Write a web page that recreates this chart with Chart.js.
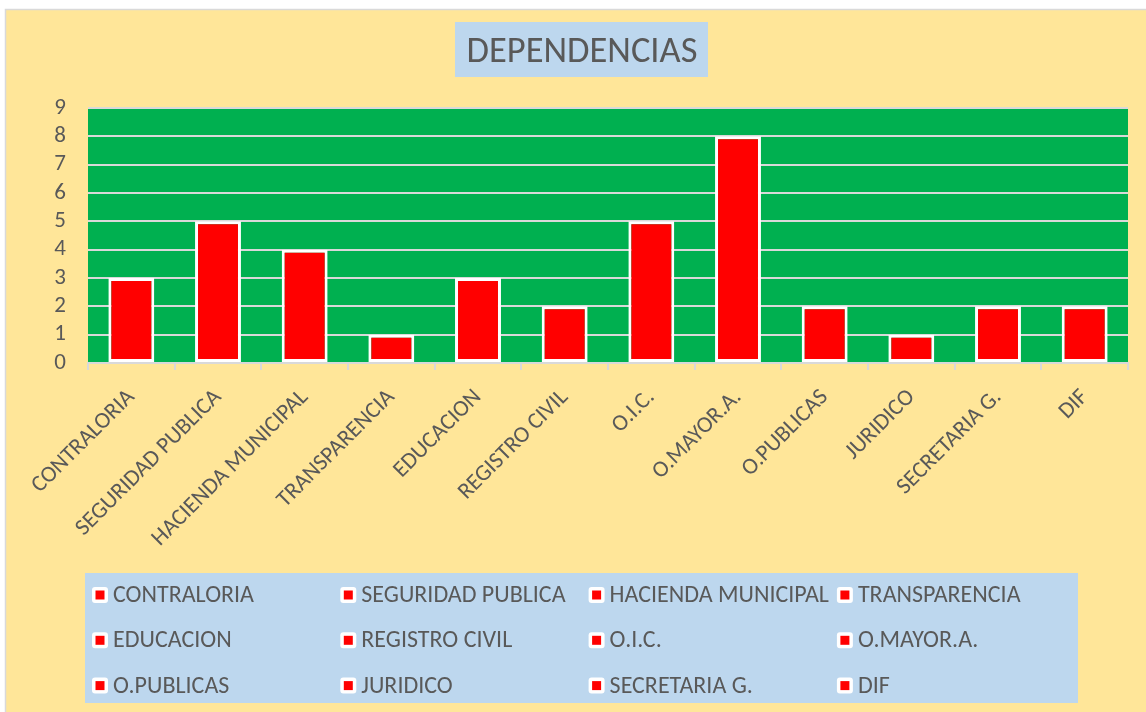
<!DOCTYPE html>
<html>
<head>
<meta charset="utf-8">
<script src="https://cdn.jsdelivr.net/npm/chart.js@4.4.1/dist/chart.umd.min.js"></script>
<style>
  html, body { margin: 0; padding: 0; background: #ffffff; }
  #wrap { width: 1146px; height: 712px; position: relative; }
</style>
</head>
<body>
<div id="wrap"><canvas id="c" width="1146" height="712"></canvas></div>
<script>
const chartTitle = "DEPENDENCIAS";
const categories = ["CONTRALORIA", "SEGURIDAD PUBLICA", "HACIENDA MUNICIPAL", "TRANSPARENCIA",
  "EDUCACION", "REGISTRO CIVIL", "O.I.C.", "O.MAYOR.A.", "O.PUBLICAS", "JURIDICO",
  "SECRETARIA G.", "DIF"];
const values = [3, 5, 4, 1, 3, 2, 5, 8, 2, 1, 2, 2];
const yTicks = [0, 1, 2, 3, 4, 5, 6, 7, 8, 9];

const FONT = "Carlito, 'Liberation Sans', Arial, sans-serif";
const TEXT = "#595959";
const YELLOW = "#FFE699";
const BLUE = "#BDD7EE";
const GREEN = "#00B050";
const RED = "#FF0000";
const GRID = "#D9D9D9";

const bgPlugin = {
  id: "bg",
  beforeDraw(chart) {
    const ctx = chart.ctx;
    ctx.save();
    ctx.fillStyle = "#ffffff";
    ctx.fillRect(0, 0, chart.width, chart.height);
    ctx.fillStyle = YELLOW;
    ctx.fillRect(5, 9, chart.width - 5, chart.height - 9);
    ctx.strokeStyle = GRID;
    ctx.lineWidth = 1.5;
    ctx.beginPath();
    ctx.moveTo(5.5, chart.height);
    ctx.lineTo(5.5, 9.5);
    ctx.lineTo(chart.width, 9.5);
    ctx.stroke();
    const a = chart.chartArea;
    ctx.fillStyle = GREEN;
    ctx.fillRect(a.left, a.top, a.right - a.left, a.bottom - a.top);
    // title box
    ctx.fillStyle = BLUE;
    ctx.fillRect(455, 22, 253, 55);
    ctx.fillStyle = TEXT;
    ctx.font = "36.5px " + FONT;
    ctx.textAlign = "center";
    ctx.textBaseline = "alphabetic";
    ctx.fillText(chartTitle, 582, 62);
    ctx.restore();
  }
};

const legendPlugin = {
  id: "gridLegend",
  afterDraw(chart) {
    const ctx = chart.ctx;
    ctx.save();
    ctx.fillStyle = BLUE;
    ctx.fillRect(85, 573, 993, 130);
    ctx.font = "24px " + FONT;
    ctx.textAlign = "left";
    ctx.textBaseline = "middle";
    categories.forEach((name, i) => {
      const col = i % 4, row = Math.floor(i / 4);
      const x = 92 + col * 248.3;
      const y = 595 + row * 45.3;
      ctx.fillStyle = "#ffffff";
      ctx.beginPath();
      if (ctx.roundRect) ctx.roundRect(x, y - 8, 16, 16, 3); else ctx.rect(x, y - 8, 16, 16);
      ctx.fill();
      ctx.fillStyle = RED;
      ctx.fillRect(x + 3.5, y - 4.5, 9, 9);
      ctx.fillStyle = TEXT;
      ctx.fillText(name, x + 21, y + 1);
    });
    ctx.restore();
  }
};

new Chart(document.getElementById("c"), {
  type: "bar",
  data: {
    labels: categories,
    datasets: [{
      label: chartTitle,
      data: values,
      backgroundColor: RED,
      borderColor: "#ffffff",
      borderWidth: 3,
      borderSkipped: false,
      barPercentage: 0.53,
      categoryPercentage: 1.0
    }]
  },
  options: {
    responsive: false,
    animation: false,
    devicePixelRatio: 1,
    layout: { padding: { left: 0, top: 108, right: 18, bottom: 149 } },
    plugins: { legend: { display: false }, title: { display: false }, tooltip: { enabled: false } },
    scales: {
      x: {
        offset: true,
        grid: { display: true, drawOnChartArea: false, drawTicks: true, tickLength: 7, color: GRID, lineWidth: 2, offset: true },
        border: { display: true, color: GRID, width: 2 },
        ticks: { color: TEXT, font: { family: FONT, size: 23 }, minRotation: 45, maxRotation: 45, padding: 14, autoSkip: false },
        afterFit(scale) { scale.height = 200; }
      },
      y: {
        min: 0, max: 9,
        afterBuildTicks(scale) { scale.ticks = yTicks.map(v => ({ value: v })); },
        grid: { color: GRID, lineWidth: 2, drawTicks: false },
        border: { display: false },
        ticks: { color: TEXT, font: { family: FONT, size: 23 }, padding: 22, autoSkip: false, stepSize: 1 },
        afterFit(scale) { scale.width = 88; }
      }
    }
  },
  plugins: [bgPlugin, legendPlugin]
});
</script>
</body>
</html>
